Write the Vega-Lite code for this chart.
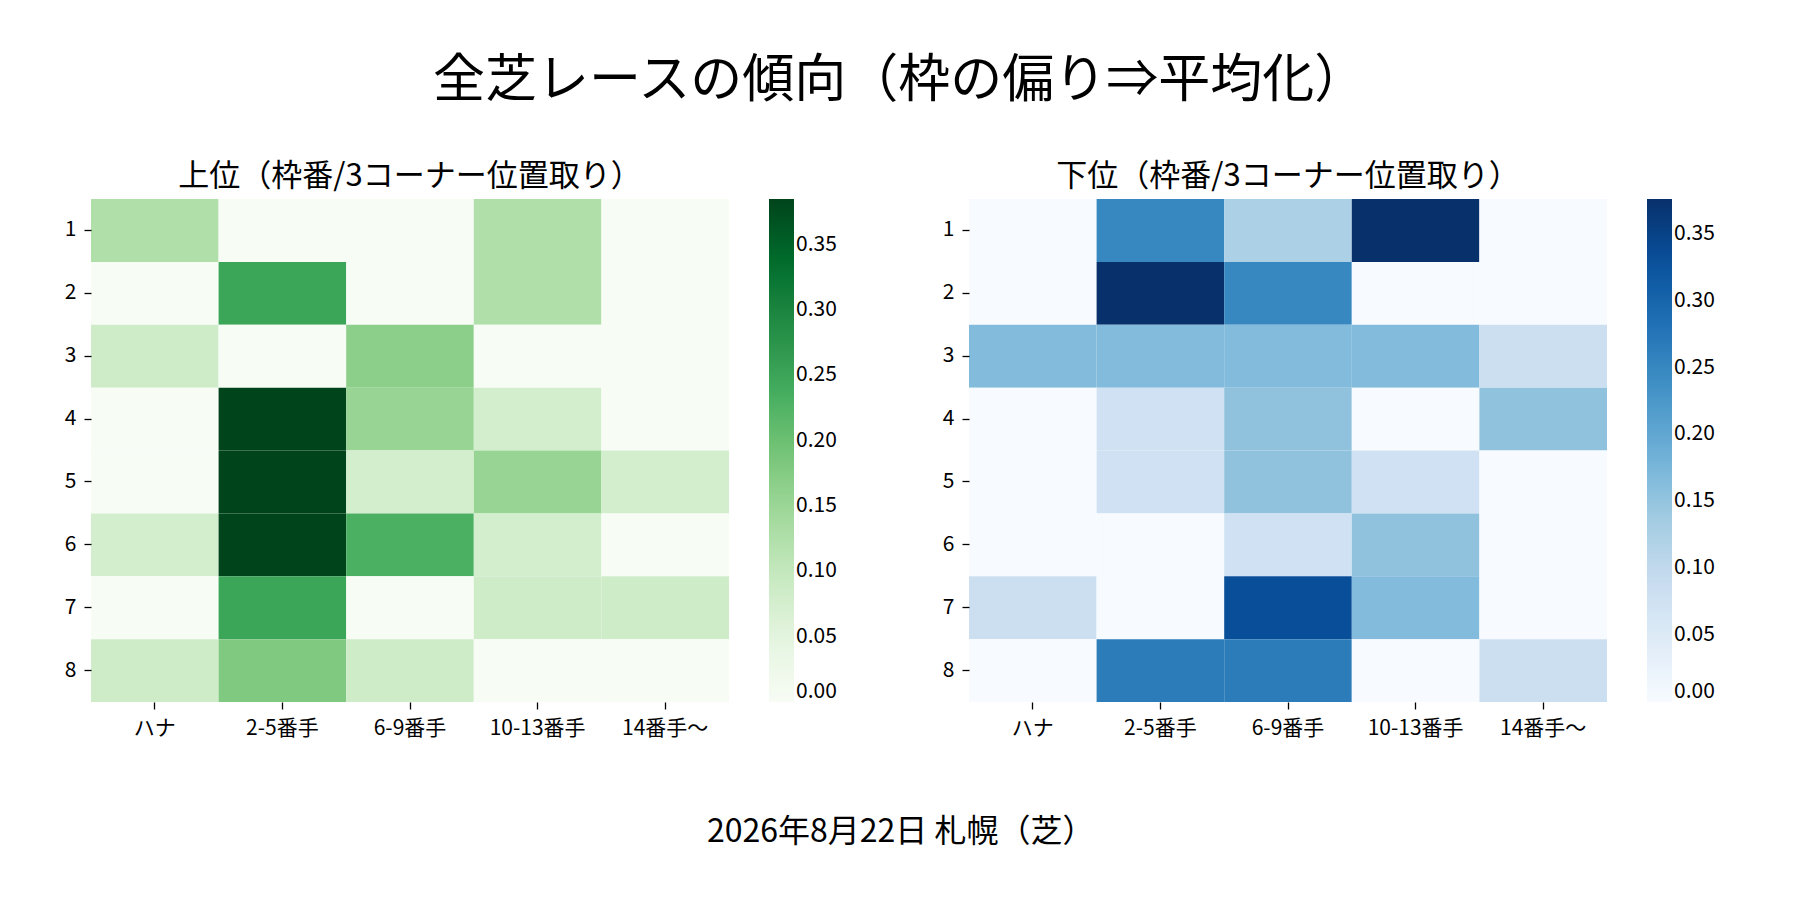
{
  "$schema": "https://vega.github.io/schema/vega-lite/v6.json",
  "padding": {"left": 64, "top": 55, "right": 0, "bottom": 30},
  "title": {
    "text": "全芝レースの傾向（枠の偏り⇒平均化）",
    "fontSize": 52,
    "fontWeight": "normal",
    "anchor": "middle",
    "dx": 10,
    "offset": 53
  },
  "datasets": {
    "top": [
      {"waku": 1, "pos": "ハナ", "value": 0.125}, {"waku": 1, "pos": "2-5番手", "value": 0}, {"waku": 1, "pos": "6-9番手", "value": 0}, {"waku": 1, "pos": "10-13番手", "value": 0.125}, {"waku": 1, "pos": "14番手～", "value": 0},
      {"waku": 2, "pos": "ハナ", "value": 0}, {"waku": 2, "pos": "2-5番手", "value": 0.25}, {"waku": 2, "pos": "6-9番手", "value": 0}, {"waku": 2, "pos": "10-13番手", "value": 0.125}, {"waku": 2, "pos": "14番手～", "value": 0},
      {"waku": 3, "pos": "ハナ", "value": 0.083}, {"waku": 3, "pos": "2-5番手", "value": 0}, {"waku": 3, "pos": "6-9番手", "value": 0.167}, {"waku": 3, "pos": "10-13番手", "value": 0}, {"waku": 3, "pos": "14番手～", "value": 0},
      {"waku": 4, "pos": "ハナ", "value": 0}, {"waku": 4, "pos": "2-5番手", "value": 0.385}, {"waku": 4, "pos": "6-9番手", "value": 0.154}, {"waku": 4, "pos": "10-13番手", "value": 0.077}, {"waku": 4, "pos": "14番手～", "value": 0},
      {"waku": 5, "pos": "ハナ", "value": 0}, {"waku": 5, "pos": "2-5番手", "value": 0.385}, {"waku": 5, "pos": "6-9番手", "value": 0.077}, {"waku": 5, "pos": "10-13番手", "value": 0.154}, {"waku": 5, "pos": "14番手～", "value": 0.077},
      {"waku": 6, "pos": "ハナ", "value": 0.077}, {"waku": 6, "pos": "2-5番手", "value": 0.385}, {"waku": 6, "pos": "6-9番手", "value": 0.231}, {"waku": 6, "pos": "10-13番手", "value": 0.077}, {"waku": 6, "pos": "14番手～", "value": 0},
      {"waku": 7, "pos": "ハナ", "value": 0}, {"waku": 7, "pos": "2-5番手", "value": 0.25}, {"waku": 7, "pos": "6-9番手", "value": 0}, {"waku": 7, "pos": "10-13番手", "value": 0.083}, {"waku": 7, "pos": "14番手～", "value": 0.083},
      {"waku": 8, "pos": "ハナ", "value": 0.083}, {"waku": 8, "pos": "2-5番手", "value": 0.18}, {"waku": 8, "pos": "6-9番手", "value": 0.083}, {"waku": 8, "pos": "10-13番手", "value": 0}, {"waku": 8, "pos": "14番手～", "value": 0}
    ],
    "bottom": [
      {"waku": 1, "pos": "ハナ", "value": 0}, {"waku": 1, "pos": "2-5番手", "value": 0.25}, {"waku": 1, "pos": "6-9番手", "value": 0.125}, {"waku": 1, "pos": "10-13番手", "value": 0.376}, {"waku": 1, "pos": "14番手～", "value": 0},
      {"waku": 2, "pos": "ハナ", "value": 0}, {"waku": 2, "pos": "2-5番手", "value": 0.376}, {"waku": 2, "pos": "6-9番手", "value": 0.25}, {"waku": 2, "pos": "10-13番手", "value": 0}, {"waku": 2, "pos": "14番手～", "value": 0},
      {"waku": 3, "pos": "ハナ", "value": 0.167}, {"waku": 3, "pos": "2-5番手", "value": 0.167}, {"waku": 3, "pos": "6-9番手", "value": 0.167}, {"waku": 3, "pos": "10-13番手", "value": 0.167}, {"waku": 3, "pos": "14番手～", "value": 0.083},
      {"waku": 4, "pos": "ハナ", "value": 0}, {"waku": 4, "pos": "2-5番手", "value": 0.077}, {"waku": 4, "pos": "6-9番手", "value": 0.154}, {"waku": 4, "pos": "10-13番手", "value": 0}, {"waku": 4, "pos": "14番手～", "value": 0.154},
      {"waku": 5, "pos": "ハナ", "value": 0}, {"waku": 5, "pos": "2-5番手", "value": 0.077}, {"waku": 5, "pos": "6-9番手", "value": 0.154}, {"waku": 5, "pos": "10-13番手", "value": 0.077}, {"waku": 5, "pos": "14番手～", "value": 0},
      {"waku": 6, "pos": "ハナ", "value": 0}, {"waku": 6, "pos": "2-5番手", "value": 0}, {"waku": 6, "pos": "6-9番手", "value": 0.077}, {"waku": 6, "pos": "10-13番手", "value": 0.154}, {"waku": 6, "pos": "14番手～", "value": 0},
      {"waku": 7, "pos": "ハナ", "value": 0.083}, {"waku": 7, "pos": "2-5番手", "value": 0}, {"waku": 7, "pos": "6-9番手", "value": 0.333}, {"waku": 7, "pos": "10-13番手", "value": 0.167}, {"waku": 7, "pos": "14番手～", "value": 0},
      {"waku": 8, "pos": "ハナ", "value": 0}, {"waku": 8, "pos": "2-5番手", "value": 0.267}, {"waku": 8, "pos": "6-9番手", "value": 0.267}, {"waku": 8, "pos": "10-13番手", "value": 0}, {"waku": 8, "pos": "14番手～", "value": 0.083}
    ]
  },
  "vconcat": [
    {
      "title": {
        "text": "2026年8月22日 札幌（芝）",
        "orient": "bottom",
        "fontSize": 32,
        "fontWeight": "normal",
        "anchor": "middle",
        "dx": 11,
        "offset": 79
      },
      "hconcat": [
        {
          "title": {"text": "上位（枠番/3コーナー位置取り）"},
          "width": 638,
          "height": 503,
          "data": {"name": "top"},
          "mark": {"type": "rect"},
          "encoding": {
            "x": {"field": "pos", "type": "ordinal", "sort": ["ハナ", "2-5番手", "6-9番手", "10-13番手", "14番手～"], "title": null, "scale": {"paddingInner": 0, "paddingOuter": 0}},
            "y": {"field": "waku", "type": "ordinal", "title": null, "scale": {"paddingInner": 0, "paddingOuter": 0}},
            "color": {
              "field": "value",
              "type": "quantitative",
              "scale": {
                "domain": [0, 0.048125, 0.09625, 0.144375, 0.1925, 0.240625, 0.28875, 0.336875, 0.385],
                "range": ["#f7fcf5", "#e5f5e0", "#c7e9c0", "#a1d99b", "#74c476", "#41ab5d", "#238b45", "#006d2c", "#00441b"],
                "interpolate": "rgb"
              },
              "legend": {"values": [0, 0.05, 0.1, 0.15, 0.2, 0.25, 0.3, 0.35]}
            }
          }
        },
        {
          "title": {"text": "下位（枠番/3コーナー位置取り）"},
          "width": 638,
          "height": 503,
          "data": {"name": "bottom"},
          "mark": {"type": "rect"},
          "encoding": {
            "x": {"field": "pos", "type": "ordinal", "sort": ["ハナ", "2-5番手", "6-9番手", "10-13番手", "14番手～"], "title": null, "scale": {"paddingInner": 0, "paddingOuter": 0}},
            "y": {"field": "waku", "type": "ordinal", "title": null, "scale": {"paddingInner": 0, "paddingOuter": 0}},
            "color": {
              "field": "value",
              "type": "quantitative",
              "scale": {
                "domain": [0, 0.047, 0.094, 0.141, 0.188, 0.235, 0.282, 0.329, 0.376],
                "range": ["#f7fbff", "#deebf7", "#c6dbef", "#9ecae1", "#6baed6", "#4292c6", "#2171b5", "#08519c", "#08306b"],
                "interpolate": "rgb"
              },
              "legend": {"values": [0, 0.05, 0.1, 0.15, 0.2, 0.25, 0.3, 0.35]}
            }
          }
        }
      ],
      "spacing": 105,
      "resolve": {"scale": {"color": "independent"}}
    }
  ],
  "config": {
    "font": "Noto Sans CJK JP",
    "background": "white",
    "view": {"stroke": null},
    "title": {"fontSize": 31, "fontWeight": "normal", "color": "#000", "offset": 6},
    "axis": {
      "domain": false,
      "grid": false,
      "tickSize": 7,
      "tickWidth": 1.3,
      "tickColor": "#000",
      "labelFontSize": 21,
      "labelColor": "#000",
      "labelPadding": 8,
      "labelAngle": 0
    },
    "legend": {
      "title": null,
      "direction": "vertical",
      "orient": "right",
      "offset": 40,
      "gradientLength": 503,
      "gradientThickness": 25,
      "gradientStrokeWidth": 0,
      "labelFontSize": 21,
      "labelColor": "#000",
      "labelOffset": 14,
      "labelOverlap": false,
      "labelBaseline": "middle",
      "format": ".2f"
    }
  }
}
